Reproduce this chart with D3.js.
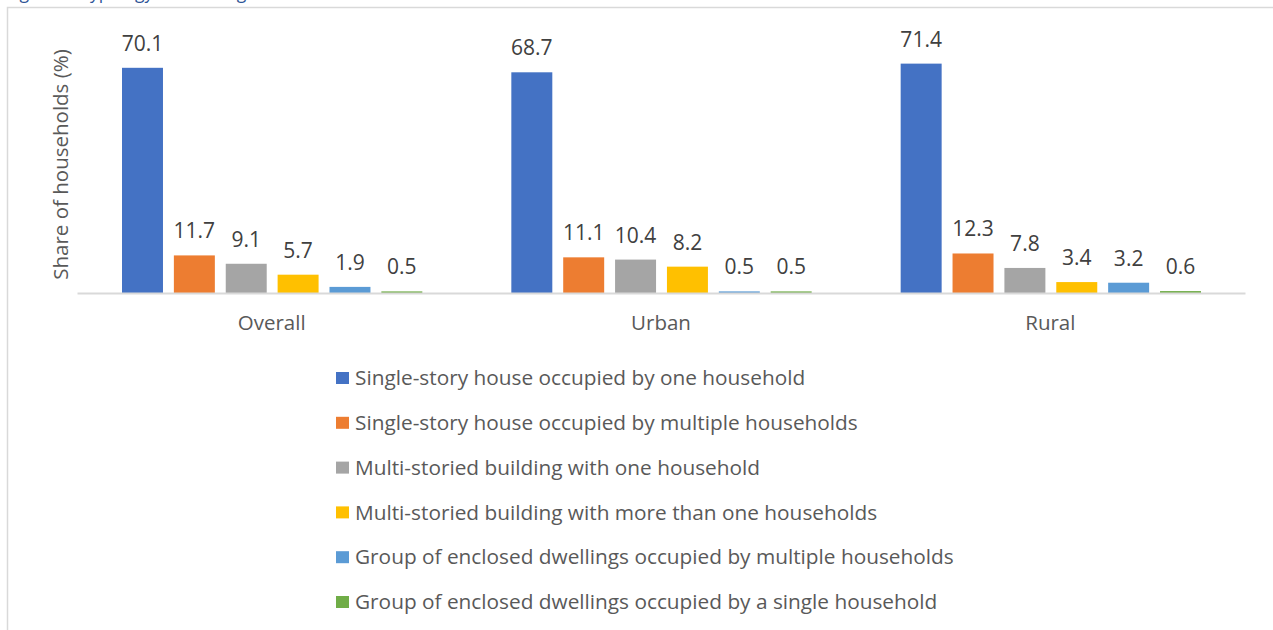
<!DOCTYPE html>
<html>
<head>
<meta charset="utf-8">
<script src="https://cdn.jsdelivr.net/npm/d3@7"></script>
<style>
  body { margin: 0; background: #fff; }
  svg { display: block; font-family: "Open Sans", sans-serif; }
</style>
</head>
<body>
<div id="chart-area"></div>
<script>
var categories = ["Overall", "Urban", "Rural"];
var seriesNames = [
    "Single-story house occupied by one household",
    "Single-story house occupied by multiple households",
    "Multi-storied building with one household",
    "Multi-storied building with more than one households",
    "Group of enclosed dwellings occupied by multiple households",
    "Group of enclosed dwellings occupied by a single household"
];
var overallValues = [70.1, 11.7, 9.1, 5.7, 1.9, 0.5];
var urbanValues   = [68.7, 11.1, 10.4, 8.2, 0.5, 0.5];
var ruralValues   = [71.4, 12.3, 7.8, 3.4, 3.2, 0.6];
var colors = ["#4472C4", "#ED7D31", "#A5A5A5", "#FFC000", "#5B9BD5", "#70AD47"];

var width = 1273, height = 630;
var margins = { left: 77, right: 28, top: 36, bottom: 337 };

var svg = d3.select("#chart-area")
    .append("svg")
    .attr("width", width)
    .attr("height", height);

// caption, cut off at the top edge like in the source
svg.append("text")
    .attr("x", 6)
    .attr("y", -1)
    .attr("fill", "#2F5597")
    .style("font-size", "17.5px")
    .text("Figure 4: Typology of dwelling");

// chart frame
svg.append("rect")
    .attr("x", 7.5)
    .attr("y", 7.5)
    .attr("width", 1400)
    .attr("height", 800)
    .attr("fill", "none")
    .attr("stroke", "#d9d9d9")
    .attr("stroke-width", 1.5);

var data = categories.map(function(c, i) {
    var vals = [overallValues, urbanValues, ruralValues][i];
    return { category: c, values: vals.map(function(v, j) { return { name: seriesNames[j], value: v, idx: j }; }) };
});

var x0 = d3.scaleBand()
    .domain(categories)
    .range([margins.left, width - margins.right]);

var x1 = d3.scaleBand()
    .domain(d3.range(seriesNames.length))
    .range([45, x0.bandwidth() - 44])
    .paddingInner(0.21);

var y = d3.scaleLinear()
    .domain([0, 80])
    .range([height - margins.bottom, margins.top]);

var groups = svg.selectAll(".cat")
    .data(data)
    .enter()
    .append("g")
    .attr("class", "cat")
    .attr("transform", function(d) { return "translate(" + x0(d.category) + ",0)"; });

groups.selectAll("rect")
    .data(function(d) { return d.values; })
    .enter()
    .append("rect")
    .attr("x", function(d) { return x1(d.idx); })
    .attr("y", function(d) { return y(d.value); })
    .attr("width", x1.bandwidth())
    .attr("height", function(d) { return y(0) - y(d.value); })
    .attr("fill", function(d) { return colors[d.idx]; });

// value labels
groups.selectAll(".val")
    .data(function(d) { return d.values; })
    .enter()
    .append("text")
    .attr("class", "val")
    .attr("x", function(d) { return x1(d.idx) + x1.bandwidth() / 2; })
    .attr("y", function(d) { return y(d.value) - 17; })
    .attr("text-anchor", "middle")
    .attr("fill", "#404040")
    .style("font-size", "21px")
    .text(function(d) { return d.value.toFixed(1); });

// x axis
var xAxis = svg.append("g")
    .attr("transform", "translate(0," + y(0) + ")")
    .call(d3.axisBottom(x0).tickSize(0).tickPadding(22));
xAxis.select(".domain").attr("stroke", "#d9d9d9").attr("stroke-width", 2);
xAxis.selectAll("text")
    .attr("fill", "#595959")
    .style("font-size", "20.5px")
    .style("font-family", "Open Sans, sans-serif");

// y axis title
svg.append("text")
    .attr("transform", "translate(68," + (y(0) + y(80)) / 2 + ") rotate(-90)")
    .attr("text-anchor", "middle")
    .attr("fill", "#595959")
    .style("font-size", "20.5px")
    .text("Share of households (%)");

// legend
var legend = svg.selectAll(".legend")
    .data(seriesNames)
    .enter()
    .append("g")
    .attr("class", "legend")
    .attr("transform", function(d, i) { return "translate(336," + (378 + i * 44.8) + ")"; });

legend.append("rect")
    .attr("x", 0)
    .attr("y", -6)
    .attr("width", 13)
    .attr("height", 12)
    .attr("fill", function(d, i) { return colors[i]; });

legend.append("text")
    .attr("x", 19)
    .attr("y", 0)
    .attr("dy", "0.35em")
    .attr("fill", "#595959")
    .style("font-size", "20.8px")
    .text(function(d) { return d; });
</script>
</body>
</html>
